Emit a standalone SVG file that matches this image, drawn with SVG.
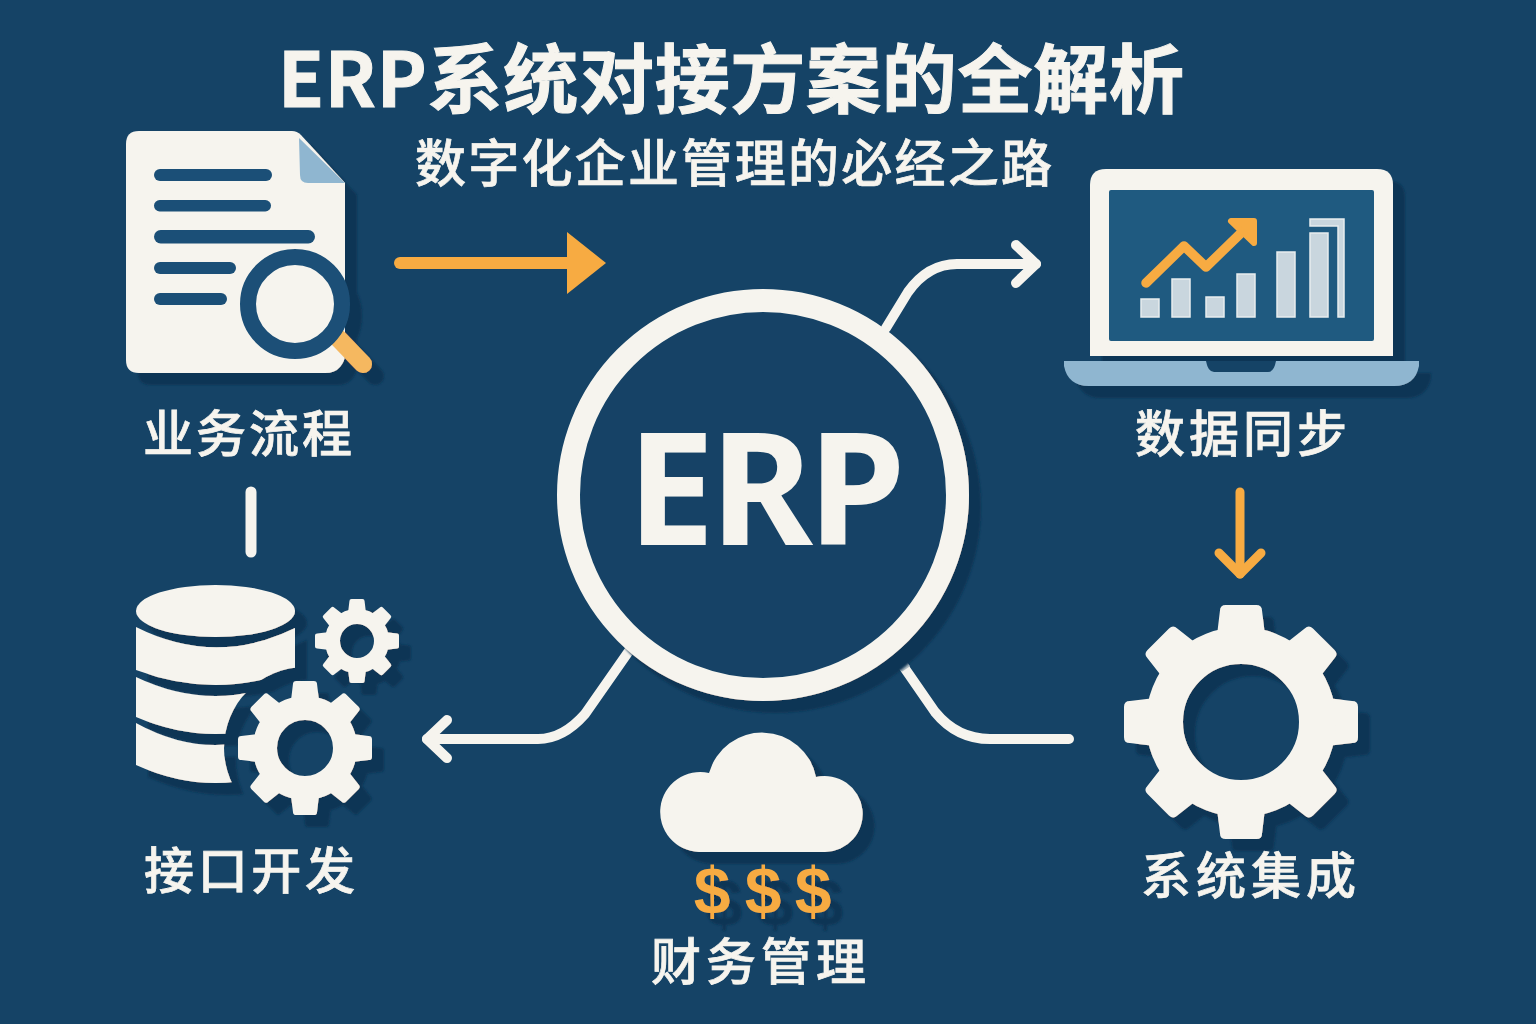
<svg xmlns="http://www.w3.org/2000/svg" width="1536" height="1024" viewBox="0 0 1536 1024">
<style>
.cream{fill:#f6f4ee}
.navy{fill:#1b4f77}
.bar{fill:#c9d6de;stroke:#e8edee;stroke-width:1.5}
.line{fill:none;stroke:#f6f4ee;stroke-linecap:round;stroke-linejoin:round}
.orange{fill:none;stroke:#f7ab42;stroke-linecap:round;stroke-linejoin:round}
.cjk{font-family:"Noto Sans CJK SC","Noto Sans",sans-serif;fill:#f6f4ee;stroke:#f6f4ee}
.head{stroke-width:1}
.label{font-size:50px;font-weight:500;stroke-width:.7}
.sh{filter:url(#shadow)}
</style>
<defs>
<filter id="shadow" x="-20%" y="-20%" width="150%" height="150%">
<feDropShadow dx="12" dy="12" stdDeviation="1.2" flood-color="#113555" flood-opacity="1"/>
</filter>
<mask id="gearCut" maskUnits="userSpaceOnUse" x="0" y="0" width="1536" height="1024">
<rect width="1536" height="1024" fill="#fff"/>
<circle cx="305" cy="748" r="81" fill="#000"/>
</mask>
<path id="tooth" d="M-18,-95 Q-18,-100 -13,-100 H13 Q18,-100 18,-95 L21,-70 H-21 Z"/>
<g id="teeth">
<use href="#tooth"/>
<use href="#tooth" transform="rotate(45)"/>
<use href="#tooth" transform="rotate(90)"/>
<use href="#tooth" transform="rotate(135)"/>
<use href="#tooth" transform="rotate(180)"/>
<use href="#tooth" transform="rotate(225)"/>
<use href="#tooth" transform="rotate(270)"/>
<use href="#tooth" transform="rotate(315)"/>
</g>
<marker id="openHead" markerUnits="userSpaceOnUse" viewBox="-30 -30 40 60" refX="0" refY="0" markerWidth="40" markerHeight="60" orient="auto" overflow="visible">
<path d="M-20,-19 L0,0 L-20,19" fill="none" stroke="#f6f4ee" stroke-width="10" stroke-linecap="round" stroke-linejoin="round"/>
</marker>
<marker id="orangeHead" markerUnits="userSpaceOnUse" viewBox="-30 -30 40 60" refX="0" refY="0" markerWidth="40" markerHeight="60" orient="auto" overflow="visible">
<path d="M-21,-21 L0,0 L-21,21" fill="none" stroke="#f7ab42" stroke-width="9" stroke-linecap="round" stroke-linejoin="round"/>
</marker>
</defs>
<rect id="background" width="1536" height="1024" fill="#154366"/>

<g id="title">
<text class="cjk head" x="278" y="107" font-size="75" font-weight="700" textLength="906" lengthAdjust="spacing">ERP系统对接方案的全解析</text>
<text class="cjk label" x="415" y="182" style="font-size:51px" textLength="637" lengthAdjust="spacing">数字化企业管理的必经之路</text>
</g>

<g id="connectors">
<path class="orange" d="M400,263 H572" stroke-width="12"/>
<polygon points="567,232 606,263 567,294" fill="#f7ab42"/>
<path class="line" d="M886,328 L908,292 Q928,264 957,264 H1036" stroke-width="10" marker-end="url(#openHead)"/>
<path class="line" d="M629,651 L585,714 Q563,739 538,739 H427" stroke-width="10" marker-end="url(#openHead)"/>
<path class="line" d="M899,660 L935,712 Q957,739 990,739 H1069" stroke-width="10"/>
<path d="M899,659 L906,669" fill="none" stroke="#b5bfc5" stroke-width="10"/>
<path class="line" d="M251,492 V552" stroke-width="11"/>
<path class="orange" d="M1240,492 V574" stroke-width="9" marker-end="url(#orangeHead)"/>
</g>

<g id="node-erp">
<circle class="sh" cx="763" cy="495" r="194.500" fill="#154366" stroke="#f6f4ee" stroke-width="23"/>
<text x="627" y="545" font-family="'Noto Sans','Open Sans',sans-serif" font-size="157" font-weight="700" letter-spacing="-5" fill="#f6f4ee">ERP</text>
</g>

<g id="node-process">
<g class="sh">
<path class="cream" d="M139,131 H292 Q297,131 301,135 L345,183 V355 Q345,361 340,367 Q335,373 325,373 H139 Q126,373 126,360 V144 Q126,131 139,131 Z"/>
<path d="M299,138 L345,183 H308 Q300,183 300,175 Z" fill="#8fb6d0"/>
<path d="M335,335 L363,364" fill="none" stroke="#f5b860" stroke-width="18" stroke-linecap="round"/>
<circle cx="295" cy="304" r="47" fill="#f6f4ee" stroke="#1b4f77" stroke-width="16"/>
</g>
<rect class="navy" x="154" y="169" width="118" height="12" rx="6"/>
<rect class="navy" x="154" y="200" width="117" height="11.500" rx="5.700"/>
<rect class="navy" x="154" y="230" width="161" height="13.500" rx="6.700"/>
<rect class="navy" x="154" y="262" width="82" height="12" rx="6"/>
<rect class="navy" x="154" y="293" width="73" height="12" rx="6"/>
<text class="cjk label" x="143" y="452" textLength="209" lengthAdjust="spacing">业务流程</text>
</g>

<g id="node-data">
<g class="sh">
<path class="cream" d="M1090,356 V185 Q1090,169 1106,169 H1377 Q1393,169 1393,185 V356 Z"/>
<path d="M1064,361 H1419 V366 Q1415,386 1394,386 H1089 Q1068,386 1064,366 Z" fill="#8fb6d0"/>
</g>
<rect x="1109" y="190" width="265" height="151" rx="2" fill="#1f5a80"/>
<path d="M1206,361 H1276 Q1274,372 1268,372 H1214 Q1208,372 1206,361 Z" fill="#154366"/>
<rect class="bar" x="1141" y="299" width="18" height="18"/>
<rect class="bar" x="1172" y="279" width="18" height="38"/>
<rect class="bar" x="1206" y="297" width="18" height="20"/>
<rect class="bar" x="1237" y="274" width="18" height="43"/>
<rect class="bar" x="1277" y="252" width="18" height="65"/>
<rect class="bar" x="1310" y="233" width="18" height="84"/>
<path class="bar" d="M1310,219 H1344 V317 H1338 V226 H1310 Z"/>
<path class="orange" d="M1146,283 L1184,246 L1206,267 L1240,234" stroke-width="9.500"/>
<path d="M1231,221 H1254 V243 Z" fill="#f7ab42" stroke="#f7ab42" stroke-width="6" stroke-linejoin="round"/>
<text class="cjk label" x="1135" y="452" textLength="212" lengthAdjust="spacing">数据同步</text>
</g>

<g id="node-integration">
<g class="sh">
<use href="#teeth" class="cream" transform="translate(1241,722) scale(1.17)"/>
<circle cx="1241" cy="722" r="76.500" fill="none" stroke="#f6f4ee" stroke-width="37"/>
</g>
<text class="cjk label" x="1141" y="894" textLength="215" lengthAdjust="spacing">系统集成</text>
</g>

<g id="node-interface">
<g class="sh">
<g mask="url(#gearCut)">
<ellipse class="cream" cx="215.500" cy="611" rx="79.500" ry="26"/>
<path class="cream" d="M136,627 Q215.500,667 295,628 V670 Q215.500,700 136,670 Z"/>
<path class="cream" d="M136,677 Q215.500,715 295,677 V717 Q215.500,751 136,717 Z"/>
<path class="cream" d="M136,723 Q215.500,767 295,723 V765 Q215.500,801 136,765 Z"/>
</g>
</g>
<g class="sh">
<use href="#teeth" class="cream" transform="translate(305,748) scale(.67)"/>
<circle cx="305" cy="748" r="40" fill="none" stroke="#f6f4ee" stroke-width="24"/>
</g>
<g class="sh">
<use href="#teeth" class="cream" transform="translate(357,641) scale(.42)"/>
<circle cx="357" cy="641" r="24.500" fill="none" stroke="#f6f4ee" stroke-width="15"/>
</g>
<text class="cjk label" x="144" y="889" textLength="211" lengthAdjust="spacing">接口开发</text>
</g>

<g id="node-finance">
<path class="cream sh" d="M699,852 A40,40 0 1 1 709,773 A55,55 0 0 1 816,777 A38,38 0 1 1 825,852 Z"/>
<g class="sh" font-family="'Liberation Sans',sans-serif" font-weight="700" font-size="66" fill="#f7ab42" text-anchor="middle">
<text x="712" y="914">$</text>
<text x="763" y="914">$</text>
<text x="813" y="914">$</text>
</g>
<text class="cjk label" x="651" y="980" textLength="215" lengthAdjust="spacing">财务管理</text>
</g>
</svg>
